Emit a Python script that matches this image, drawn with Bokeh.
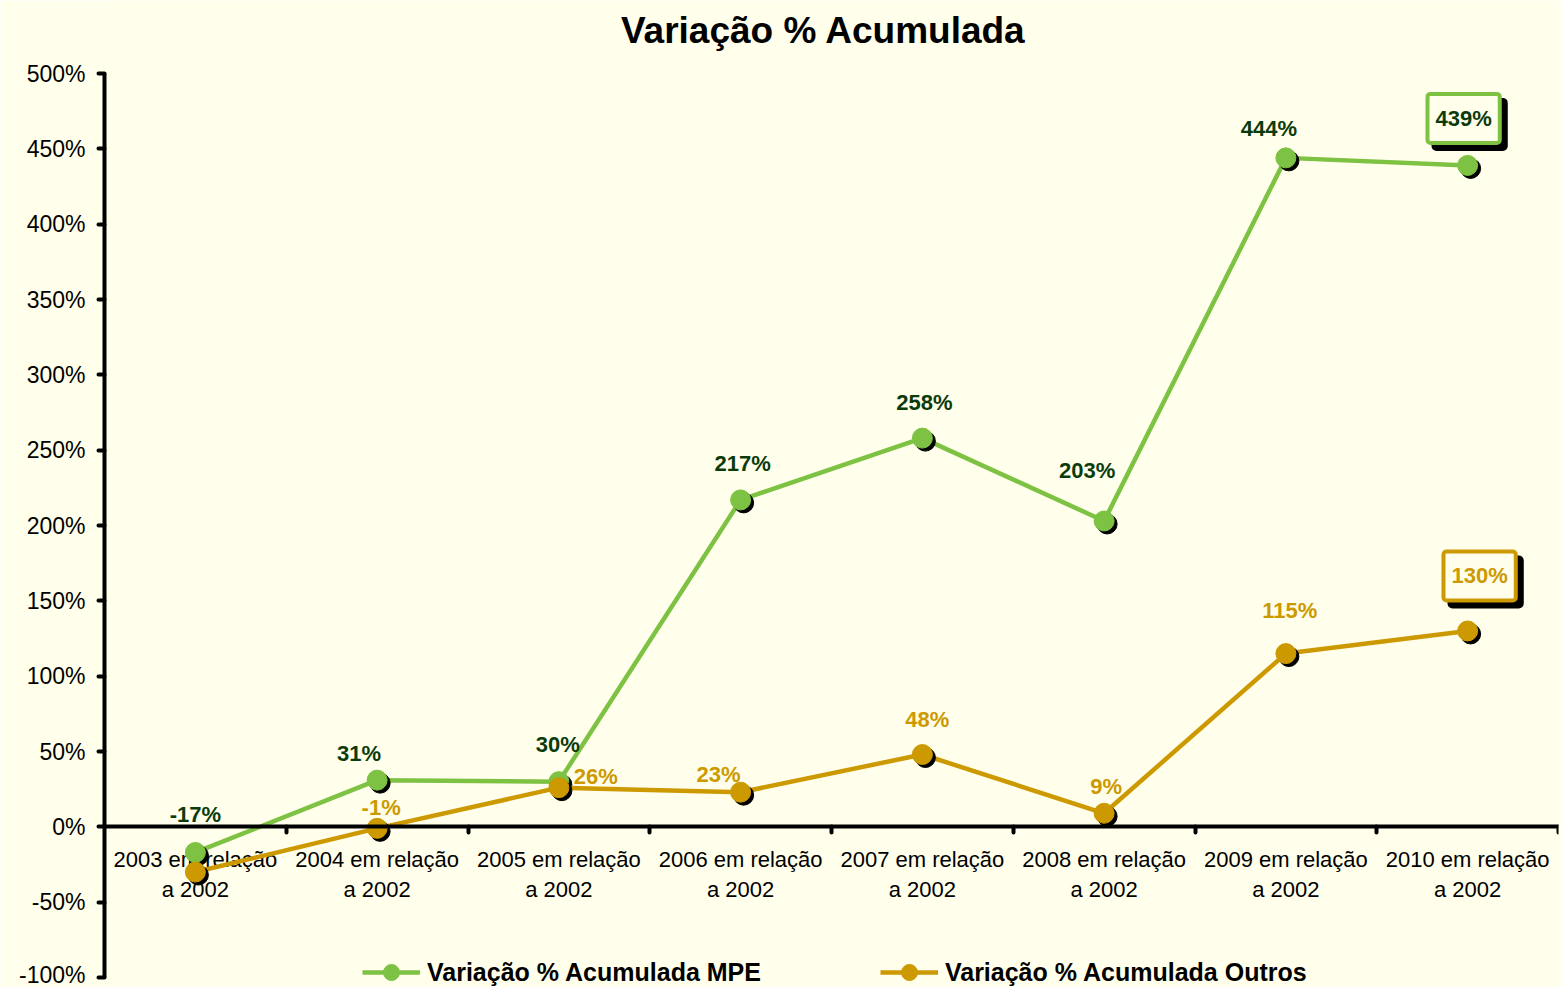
from bokeh.plotting import figure
from bokeh.models import (LinearAxis, FixedTicker, PrintfTickFormatter, ColumnDataSource,
                          Legend, LegendItem, Label, Range1d)
from bokeh.transform import dodge
from bokeh.core.properties import value
from bokeh.embed import file_html
from bokeh.resources import INLINE

# ---------------- data ----------------
categories = ["2003 em relação\na 2002", "2004 em relação\na 2002", "2005 em relação\na 2002",
              "2006 em relação\na 2002", "2007 em relação\na 2002", "2008 em relação\na 2002",
              "2009 em relação\na 2002", "2010 em relação\na 2002"]
mpe = [-17, 31, 30, 217, 258, 203, 444, 439]
outros = [-30, -1, 26, 23, 48, 9, 115, 130]
y_ticks = [-100, -50, 0, 50, 100, 150, 200, 250, 300, 350, 400, 450, 500]
series_names = ["Variação % Acumulada MPE", "Variação % Acumulada Outros"]
title_text = "Variação % Acumulada"

# label placement (screen px, relative to each point)
mpe_lab_dx = [0, -18, -1, 2, 2, -17, -17, 0]
mpe_lab_dy = [-38, -27, -37, -36, -36, -50, -29, 0]
out_lab_dx = [0, 4, 37, -22, 5, 2, 4, 0]
out_lab_dy = [-38, -21, -11, -18, -35, -27, -43, 0]
out_lab_show = [False, True, True, True, True, True, True, False]
mpe_lab_show = [True, True, True, True, True, True, True, False]

# ---------------- style ----------------
BG = "#FFFFEB"
GREEN = "#7DC242"
GOLD = "#CC9900"
DKGREEN = "#0B3B0B"
FONT = "Liberation Sans"

W, H = 1561, 987
BL, BR = 104, 3
PAD_T, PAD_B = 73, 10            # space above / below the value axis (px)
FW = W - BL - BR
AX_H = H - PAD_T - PAD_B
ppu = AX_H / (y_ticks[-1] - y_ticks[0])   # px per % unit

n = len(categories)
xs = list(range(n))

p = figure(width=W, height=H, x_range=Range1d(-0.5, n - 0.5),
           y_range=Range1d(y_ticks[0] - PAD_B / ppu, y_ticks[-1] + PAD_T / ppu),
           output_backend="svg", toolbar_location=None, x_axis_location=None,
           min_border_left=BL, min_border_right=BR, min_border_top=0, min_border_bottom=0,
           background_fill_color=BG, border_fill_color=BG, outline_line_color=None)
p.xgrid.visible = False
p.ygrid.visible = False

# title
p.add_layout(Label(x=823 - BL, y=H - 30, x_units="screen", y_units="screen", text=title_text,
                   text_align="center", text_baseline="middle", text_font=FONT,
                   text_font_size="37px", text_font_style="bold", text_color="black"))

# y axis
ya = p.yaxis[0]
ya.bounds = (y_ticks[0], y_ticks[-1])
ya.ticker = FixedTicker(ticks=y_ticks)
ya.formatter = PrintfTickFormatter(format="%d%%")
ya.axis_line_width = 4
ya.axis_line_color = "black"
ya.major_tick_line_width = 4
ya.major_tick_line_cap = "round"
ya.major_tick_in = 0
ya.major_tick_out = 6
ya.minor_tick_line_color = None
ya.major_label_text_font = FONT
ya.major_label_text_font_size = "23px"
ya.major_label_text_color = "black"
ya.major_label_standoff = 13

# x axis crossing at 0 (tick marks between the categories)
xa = LinearAxis(fixed_location=0,
                ticker=FixedTicker(ticks=[], minor_ticks=[i + 0.5 for i in xs]),
                axis_line_width=4, axis_line_color="black",
                minor_tick_line_width=4, minor_tick_line_cap="round",
                minor_tick_in=0, minor_tick_out=6, minor_tick_line_color="black",
                major_tick_line_color=None)
p.add_layout(xa, "below")

# category labels
p.text(x=xs, y=[0] * n, text=categories, y_offset=20, text_align="center",
       text_baseline="top", text_font=value(FONT), text_font_size="22px",
       text_color="black", text_line_height=1.2)

px_x = FW / n
sdx = 3.0 / px_x
sdy = 3.0 / ppu

renderers = []
for vals, col in [(mpe, GREEN), (outros, GOLD)]:
    src = ColumnDataSource(dict(x=xs, y=vals))
    ln = p.line("x", "y", source=src, line_color=col, line_width=4.5)
    p.scatter(dodge("x", sdx, range=p.x_range), dodge("y", -sdy, range=p.y_range),
              source=src, size=20, fill_color="black", line_color="black")
    sc = p.scatter("x", "y", source=src, size=20, fill_color=col, line_color=col)
    renderers.append((ln, sc))

# data labels
for vals, dxs, dys, show, col in [(mpe, mpe_lab_dx, mpe_lab_dy, mpe_lab_show, DKGREEN),
                                  (outros, out_lab_dx, out_lab_dy, out_lab_show, GOLD)]:
    labs = [f"{v}%" if s else "" for v, s in zip(vals, show)]
    src = ColumnDataSource(dict(x=xs, y=vals, t=labs, dx=dxs, dy=dys))
    p.text("x", "y", text="t", x_offset="dx", y_offset="dy", source=src,
           text_align="center", text_baseline="middle", text_font=value(FONT),
           text_font_size="22px", text_font_style="bold", text_color=col)

# boxed labels for the last point
def boxed(xv, yv, col, tcol, dx, dy):
    common = dict(x=xv, y=yv, text=f"{yv}%", text_align="center", text_baseline="middle",
                  text_font=FONT, text_font_size="22px", text_font_style="bold",
                  padding=(8, 12), border_line_width=4, border_radius=3)
    sh = Label(x_offset=dx + 6, y_offset=dy - 6, text_color="black",
               background_fill_color="black", border_line_color="black", **common)
    fg = Label(x_offset=dx, y_offset=dy, text_color=tcol,
               background_fill_color=BG, border_line_color=col, **common)
    p.add_layout(sh)
    p.add_layout(fg)

boxed(xs[-1], mpe[-1], GREEN, DKGREEN, -4, 47)
boxed(xs[-1], outros[-1], GOLD, GOLD, 12, 55)

legend = Legend(items=[LegendItem(label=series_names[0], renderers=list(renderers[0])),
                       LegendItem(label=series_names[1], renderers=list(renderers[1]))],
                orientation="horizontal", location=(258, -5),
                background_fill_alpha=0, border_line_color=None,
                label_text_font=FONT, label_text_font_style="bold", label_text_font_size="25px",
                label_text_color="black",
                glyph_width=58, glyph_height=40, label_standoff=7, spacing=119,
                padding=0, margin=0)
p.add_layout(legend, "center")

open("out.html", "w").write(file_html(p, INLINE))
